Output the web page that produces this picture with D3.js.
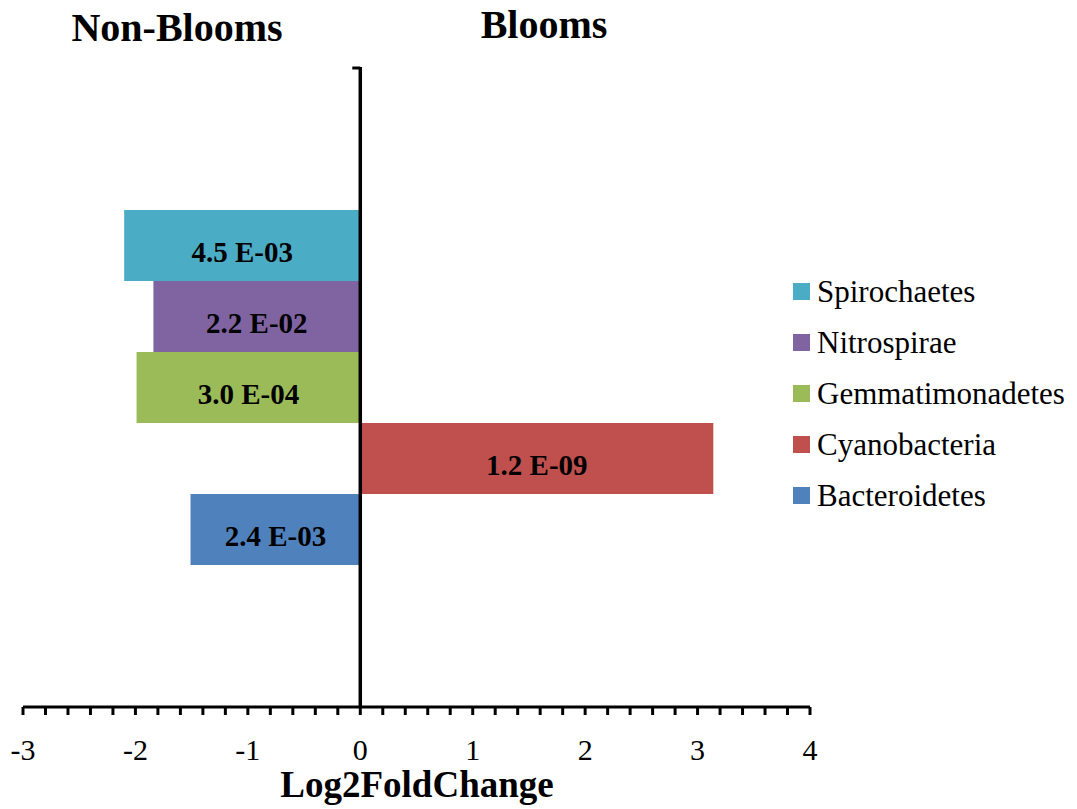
<!DOCTYPE html>
<html lang="en">
<head>
    <meta charset="UTF-8">
    <title>Log2FoldChange - Blooms vs Non-Blooms</title>
    <script src="https://d3js.org/d3.v7.min.js"></script>
    <style>
        body { margin: 0; background: white; }
        svg text { font-family: "Liberation Serif", "Times New Roman", Times, serif; }
        .bar-label { font-weight: bold; font-size: 29px; }
        .tick-label { font-size: 30px; }
        .legend-text { font-size: 31px; }
        .title { font-weight: bold; font-size: 40px; }
        .axis-title { font-weight: bold; font-size: 37px; }
    </style>
</head>
<body>
    <div id="chart"></div>
    <script>
        // Phyla, bottom to top
        const phyla = ["Bacteroidetes", "Cyanobacteria", "Gemmatimonadetes", "Nitrospirae", "Spirochaetes"];
        const log2fc = [-1.51, 3.14, -1.99, -1.84, -2.10];
        const padj = ["2.4 E-03", "1.2 E-09", "3.0 E-04", "2.2 E-02", "4.5 E-03"];
        const colors = ["#4F81BD", "#C0504D", "#9BBB59", "#8064A2", "#4BACC6"];
        const xTicks = [-3, -2, -1, 0, 1, 2, 3, 4];

        const width = 1077, height = 809;
        const plot = { left: 23, right: 810, top: 68, bottom: 707 };

        const svg = d3.select("#chart").append("svg")
            .attr("width", width)
            .attr("height", height);

        const x = d3.scaleLinear().domain([-3, 4]).range([plot.left, plot.right]);
        const y = d3.scaleBand()
            .domain(phyla)
            .range([plot.bottom, plot.top])
            .paddingInner(0)
            .paddingOuter(2);

        const data = phyla.map((p, i) => ({ name: p, value: log2fc[i], label: padj[i], color: colors[i] }));

        // Bars
        svg.selectAll("rect.bar")
            .data(data)
            .join("rect")
            .attr("class", "bar")
            .attr("x", d => x(Math.min(0, d.value)))
            .attr("width", d => Math.abs(x(d.value) - x(0)))
            .attr("y", d => y(d.name))
            .attr("height", y.bandwidth())
            .attr("fill", d => d.color);

        // Bar labels (adjusted p values)
        svg.selectAll("text.bar-label")
            .data(data)
            .join("text")
            .attr("class", "bar-label")
            .attr("x", d => (x(d.value) + x(0)) / 2)
            .attr("y", d => y(d.name) + y.bandwidth() / 2 + 16)
            .attr("text-anchor", "middle")
            .text(d => d.label);

        // Horizontal axis with minor ticks every 0.2
        const minor = d3.range(-3, 4.0001, 0.2);
        svg.append("line")
            .attr("x1", plot.left).attr("x2", plot.right)
            .attr("y1", plot.bottom).attr("y2", plot.bottom)
            .attr("stroke", "black").attr("stroke-width", 3);
        svg.selectAll("line.minor")
            .data(minor)
            .join("line")
            .attr("class", "minor")
            .attr("x1", d => x(d)).attr("x2", d => x(d))
            .attr("y1", plot.bottom).attr("y2", plot.bottom + 8)
            .attr("stroke", "black").attr("stroke-width", 3);
        svg.selectAll("text.tick-label")
            .data(xTicks)
            .join("text")
            .attr("class", "tick-label")
            .attr("x", d => x(d))
            .attr("y", 760)
            .attr("text-anchor", "middle")
            .text(d => d < 0 ? "-" + Math.abs(d) : d);

        // Vertical axis at zero
        svg.append("line")
            .attr("x1", x(0)).attr("x2", x(0))
            .attr("y1", plot.top - 1).attr("y2", plot.bottom)
            .attr("stroke", "black").attr("stroke-width", 3.5);
        svg.append("line")
            .attr("x1", x(0) - 8).attr("x2", x(0))
            .attr("y1", plot.top).attr("y2", plot.top)
            .attr("stroke", "black").attr("stroke-width", 3);

        // Titles
        svg.append("text").attr("class", "title")
            .attr("x", 177).attr("y", 41).attr("text-anchor", "middle")
            .text("Non-Blooms");
        svg.append("text").attr("class", "title")
            .attr("x", 544).attr("y", 38).attr("text-anchor", "middle")
            .text("Blooms");
        svg.append("text").attr("class", "axis-title")
            .attr("x", 417).attr("y", 797).attr("text-anchor", "middle")
            .text("Log2FoldChange");

        // Legend, top to bottom
        const legendData = data.slice().reverse();
        const legend = svg.selectAll("g.legend")
            .data(legendData)
            .join("g")
            .attr("class", "legend")
            .attr("transform", (d, i) => `translate(793,${291 + i * 51})`);
        legend.append("rect")
            .attr("x", 0).attr("y", -8)
            .attr("width", 17).attr("height", 17)
            .attr("fill", d => d.color);
        legend.append("text")
            .attr("class", "legend-text")
            .attr("x", 24).attr("y", 11)
            .text(d => d.name);
    </script>
</body>
</html>
